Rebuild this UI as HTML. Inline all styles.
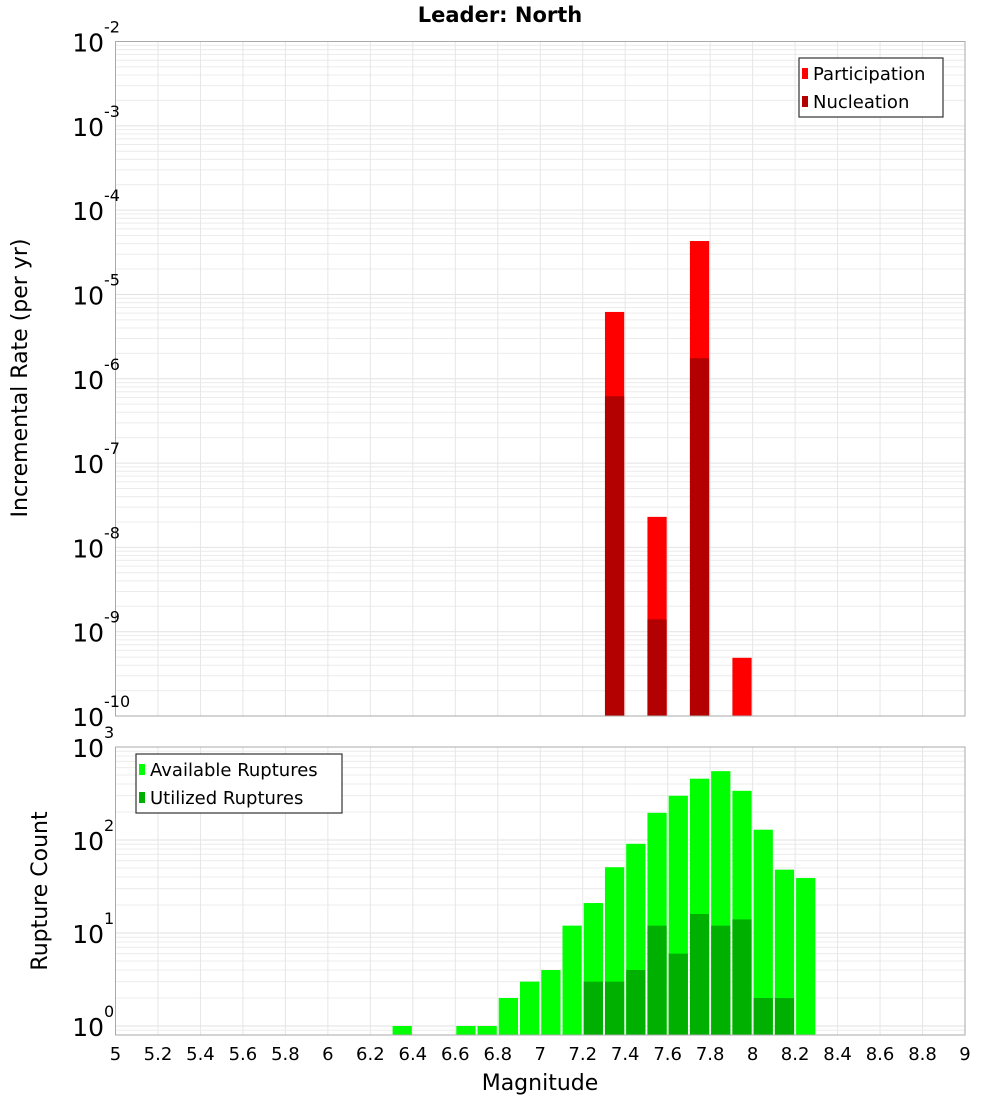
<!DOCTYPE html>
<html><head><meta charset="utf-8"><style>
body{margin:0;background:#fff}
svg{display:block;font-family:"DejaVu Sans","Liberation Sans",sans-serif}
</style></head><body>
<svg id="chart" width="1000" height="1100">
<text x="500" y="22" text-anchor="middle" font-size="21" font-weight="bold">Leader: North</text>
<text transform="translate(27,378) rotate(-90)" text-anchor="middle" font-size="22">Incremental Rate (per yr)</text>
<text transform="translate(47,891) rotate(-90)" text-anchor="middle" font-size="22">Rupture Count</text>
<text x="540" y="1090" text-anchor="middle" font-size="22">Magnitude</text>
<g id="top"></g>
<g id="bot"></g>
</svg>
<script>
const binStarts = [6.3,6.6,6.7,6.8,6.9,7.0,7.1,7.2,7.3,7.4,7.5,7.6,7.7,7.8,7.9,8.0,8.1,8.2];
const available = [1,1,1,2,3,4,12,21,51,91,196,299,456,550,338,129,48,39];
const utilized  = [0,0,0,0,0,0,0,3,3,4,12,6,16,12,14,2,2,0];
const rateBins = [7.3,7.5,7.7,7.9];
const participation = [6.2e-6,2.3e-8,4.3e-5,4.9e-10];
const nucleation = [6.2e-7,1.4e-9,1.75e-6,0];
const xTicks = [5,5.2,5.4,5.6,5.8,6,6.2,6.4,6.6,6.8,7,7.2,7.4,7.6,7.8,8,8.2,8.4,8.6,8.8,9];
const topExps = [-2,-3,-4,-5,-6,-7,-8,-9,-10];
const botExps = [3,2,1,0];

const NS="http://www.w3.org/2000/svg";
const L=115.5,R=965;
const X=m=>L+(m-5)/4*(R-L);
const topT=41.5,topB=716;
const Ytop=v=>topT+(-2-Math.log10(v))*(topB-topT)/8;
const botT=747,botB=1035,dec=93;
const Ybot=v=>botT+(3-Math.log10(v))*dec;
function el(p,tag,attrs){const e=document.createElementNS(NS,tag);for(const k in attrs)e.setAttribute(k,attrs[k]);p.appendChild(e);return e;}
function grid(g,t,b,yf,emin,emax){
  for(let e=emin;e<emax;e++)for(let k=1;k<10;k++){const y=yf(k*Math.pow(10,e));if(y<t-0.5||y>b+0.5)continue;
    const ln=el(g,'line',{x1:L,x2:R,y1:y,y2:y,stroke:k==1?'#e2e2e2':'#ececec','stroke-width':1});
    }
  xTicks.forEach(m=>{const ln=el(g,'line',{x1:X(m),x2:X(m),y1:t,y2:b,stroke:'#e6e6e6'});
    });
}
function ylabel(g,y,e,nm){
  const t=el(g,'text',{x:104,y:y+10,'text-anchor':'end','font-size':25});
  
  t.textContent='10';
  const s=el(g,'text',{x:104,y:y-9,'font-size':16});
  
  s.textContent=String(e);
}
function legend(g,x,y,w,items,nm){
  const b=el(g,'rect',{x:x,y:y,width:w,height:59,fill:'#fff',stroke:'#333','stroke-width':1.2});
  
  items.forEach((it,i)=>{
    const sw=el(g,'rect',{x:x+3,y:y+10+i*28,width:6,height:11,fill:it[1]});
    
    const t=el(g,'text',{x:x+14,y:y+22+i*28,'font-size':18});
    
    t.textContent=it[0];
  });
}
// top
const gt=document.getElementById('top');
grid(gt,topT,topB,Ytop,-10,-2);
rateBins.forEach((m,i)=>{
  const x1=X(m)+1,x2=X(m+0.1)-1;
  if(participation[i]>0){const r=el(gt,'rect',{x:x1,y:Ytop(participation[i]),width:x2-x1,height:topB-Ytop(participation[i]),fill:'#ff0000'});
    }
  if(nucleation[i]>0){const r=el(gt,'rect',{x:x1,y:Ytop(nucleation[i]),width:x2-x1,height:topB-Ytop(nucleation[i]),fill:'#b30000'});
    }
});
const ft=el(gt,'rect',{x:L,y:topT,width:R-L,height:topB-topT,fill:'none',stroke:'#aaa'});

topExps.forEach(e=>ylabel(gt,Ytop(Math.pow(10,e)),e,'top-y-tick'));
legend(gt,799,58,144,[['Participation','#ff0000'],['Nucleation','#b30000']],'top-legend');
// bottom
const gb=document.getElementById('bot');
grid(gb,botT,botB,Ybot,-1,3);
binStarts.forEach((m,i)=>{
  const x1=X(m)+1,x2=X(m+0.1)-1;
  const r=el(gb,'rect',{x:x1,y:Ybot(available[i]),width:x2-x1,height:botB-Ybot(available[i]),fill:'#00ff00'});
  
  if(utilized[i]>0){const u=el(gb,'rect',{x:x1,y:Ybot(utilized[i]),width:x2-x1,height:botB-Ybot(utilized[i]),fill:'#00b000'});
    }
});
const fb=el(gb,'rect',{x:L,y:botT,width:R-L,height:botB-botT,fill:'none',stroke:'#aaa'});

botExps.forEach(e=>ylabel(gb,Ybot(Math.pow(10,e)),e,'bottom-y-tick'));
xTicks.forEach(m=>{const t=el(gb,'text',{x:X(m),y:1060,'text-anchor':'middle','font-size':18});
  t.textContent=String(m);});
legend(gb,136,754,206,[['Available Ruptures','#00ff00'],['Utilized Ruptures','#00b000']],'bottom-legend');
</script>
</body></html>
